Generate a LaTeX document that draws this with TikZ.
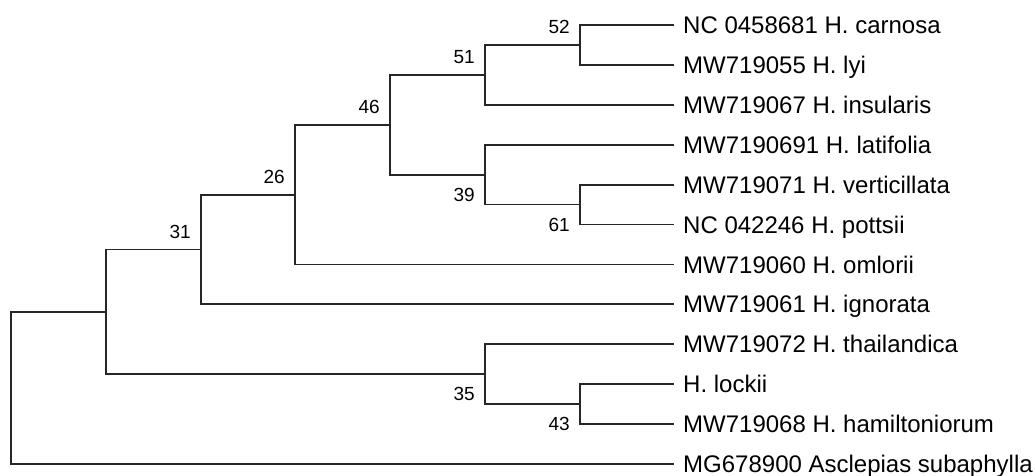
\documentclass[tikz,border=0pt]{standalone}
\usepackage{fontspec}
\setmainfont{Liberation Sans}
\usetikzlibrary{positioning}

\tikzset{
    branch/.style={line width=1.8pt,draw=black!85},
    leaf/.style={anchor=west,inner xsep=9pt,inner ysep=0pt,text height=17.2pt,text depth=0pt,
        font=\fontsize{24}{28}\selectfont},
    bs/.style={inner sep=0pt,font=\fontsize{19}{22}\selectfont,text=black},
}

\begin{document}
\begin{tikzpicture}[x=1pt,y=-1pt]
    \useasboundingbox (0,0) rectangle (1035,476);
    % taxa
    \foreach \name/\row/\txt in {carnosa/0/NC 0458681 H. carnosa,
        lyi/1/MW719055 H. lyi,
        insularis/2/MW719067 H. insularis,
        latifolia/3/MW7190691 H. latifolia,
        verticillata/4/MW719071 H. verticillata,
        pottsii/5/NC 042246 H. pottsii,
        omlorii/6/MW719060 H. omlorii,
        ignorata/7/MW719061 H. ignorata,
        thailandica/8/MW719072 H. thailandica,
        lockii/9/H. lockii,
        hamiltoniorum/10/MW719068 H. hamiltoniorum,
        asclepias/11/MG678900 Asclepias subaphylla}{
        \node[leaf] (\name) at (674,{25+39.9*\row}) {\txt};
    }
    % internal nodes
    \coordinate (root) at (11,387.85);
    \coordinate (n0) at (106,311.8);
    \coordinate (n31) at (201,249.45);
    \coordinate (n26) at (295,194.6);
    \coordinate (n46) at (390,124.75);
    \coordinate (n51) at (485,74.9);
    \coordinate (n52) at (580,44.95);
    \coordinate (n39) at (485,174.6);
    \coordinate (n61) at (580,204.55);
    \coordinate (n35) at (485,374.1);
    \coordinate (n43) at (580,404.05);
    \foreach \a/\b in {root/n0,n0/n31,n0/n35,n31/n26,n26/n46,n46/n51,n46/n39,n51/n52,n39/n61,n35/n43}{
        \draw[branch] (\a) |- (\b);
    }
    \foreach \a/\b in {root/asclepias,n31/ignorata,n26/omlorii,n51/insularis,n52/carnosa,n52/lyi,
        n39/latifolia,n61/verticillata,n61/pottsii,n35/thailandica,n43/lockii,n43/hamiltoniorum}{
        \draw[branch] (\a) |- (\b.west);
    }
    % bootstrap values
    \node[bs,above left=11pt and 10pt of n52] {52};
    \node[bs,above left=11pt and 10pt of n51] {51};
    \node[bs,above left=11pt and 10pt of n46] {46};
    \node[bs,above left=11pt and 10pt of n26] {26};
    \node[bs,above left=11pt and 10pt of n31] {31};
    \node[bs,below left=13pt and 10pt of n39] {39};
    \node[bs,below left=13pt and 10pt of n61] {61};
    \node[bs,below left=13pt and 10pt of n35] {35};
    \node[bs,below left=13pt and 10pt of n43] {43};
\end{tikzpicture}
\end{document}
